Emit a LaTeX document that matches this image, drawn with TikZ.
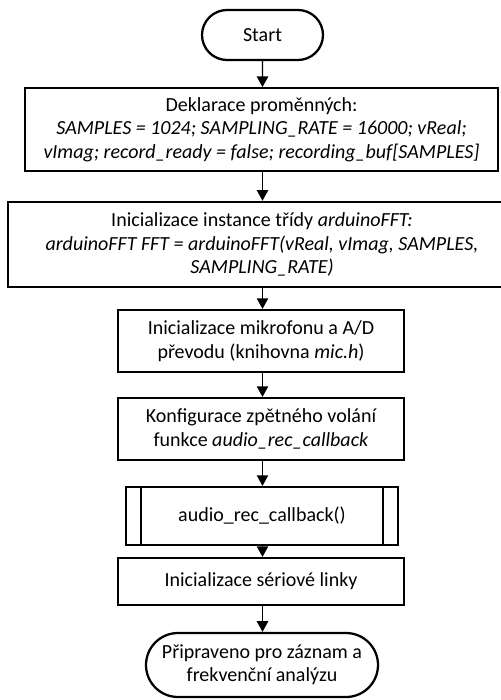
\documentclass[tikz,border=0pt]{standalone}
\usepackage{fontspec}
\setmainfont{Carlito}
\usetikzlibrary{arrows.meta,shapes.misc}
\begin{document}
\begin{tikzpicture}[x=0.75pt,y=-0.75pt,
  every node/.style={font=\fontsize{15}{17.5}\selectfont, align=center, inner sep=0pt},
  procbox/.style={draw, line width=1.6pt, rectangle, minimum width=#1},
  termbox/.style={draw, line width=1.7pt, rounded rectangle, minimum width=#1},
  flow/.style={line width=1.1pt, -{Triangle[length=8pt,width=8.5pt]}}]
\useasboundingbox (0,0) rectangle (500,700);

\node[termbox=90.75pt, minimum height=37.5pt] (start) at (262.5,35) {Start};

\node[procbox=355pt, minimum height=62pt] (decl) at (261.5,129.5)
  {Deklarace proměnných:\\
   \textit{SAMPLES = 1024; SAMPLING\_RATE = 16000; vReal;}\\
   \textit{vImag; record\_ready = false; recording\_buf[SAMPLES]}};

\node[procbox=381pt, minimum height=64pt] (fft) at (262,244.5)
  {Inicializace instance třídy \textit{arduinoFFT:}\\
   \textit{arduinoFFT FFT = arduinoFFT(vReal, vImag, SAMPLES,}\\
   \textit{SAMPLING\_RATE)}};

\node[procbox=214.5pt, minimum height=46.5pt] (mic) at (261,341)
  {Inicializace mikrofonu a A/D\\
   převodu (knihovna \textit{mic.h})};

\node[procbox=214.5pt, minimum height=46.5pt] (cb) at (261,429)
  {Konfigurace zpětného volání\\
   funkce \textit{audio\_rec\_callback}};

\node[procbox=204pt, minimum height=43.5pt] (sub) at (262,516)
  {audio\_rec\_callback()};
\draw[line width=1.6pt] ([xshift=12pt]sub.north west) -- ([xshift=12pt]sub.south west);
\draw[line width=1.6pt] ([xshift=-12pt]sub.north east) -- ([xshift=-12pt]sub.south east);

\node[procbox=214.5pt, minimum height=35.25pt] (serial) at (261,581.5)
  {Inicializace sériové linky};

\node[termbox=174pt, minimum height=48pt] (ready) at (262,665)
  {Připraveno pro záznam a\\
   frekvenční analýzu};

\draw[flow] (start) -- (decl.north -| start);
\draw[flow] (decl.south -| start) -- (fft.north -| start);
\draw[flow] (fft.south -| start) -- (mic.north -| start);
\draw[flow] (mic.south -| start) -- (cb.north -| start);
\draw[flow] (cb.south -| start) -- (sub.north -| start);
\draw[flow] (sub.south -| start) -- (serial.north -| start);
\draw[flow] (serial.south -| start) -- (ready.north -| start);
\end{tikzpicture}
\end{document}
